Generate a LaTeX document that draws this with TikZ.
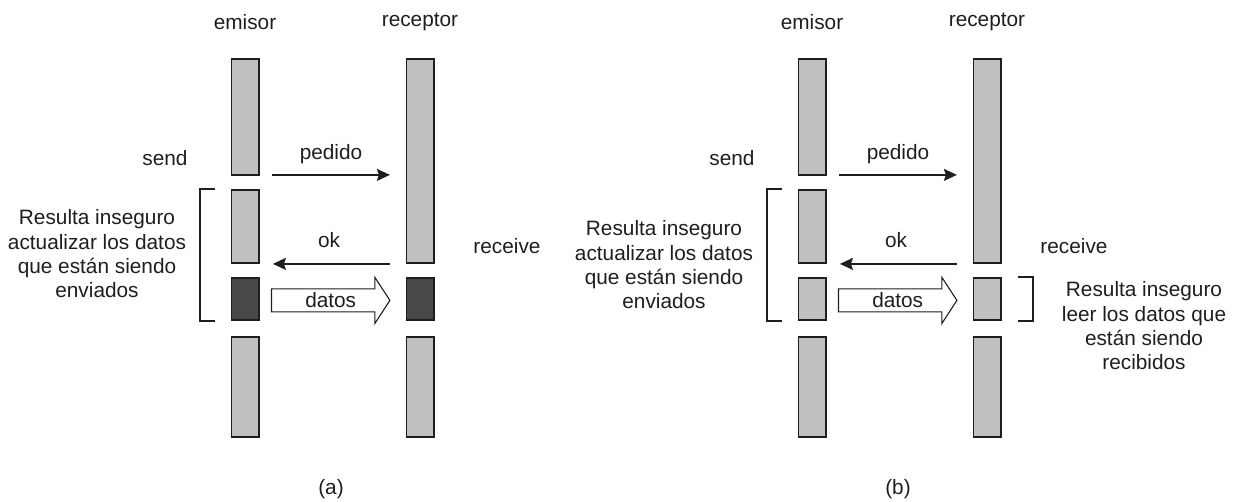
\documentclass[tikz,border=0pt]{standalone}
\usepackage{fontspec}
\setmainfont{Liberation Sans}
\usetikzlibrary{arrows.meta,calc}
\definecolor{barlight}{HTML}{C0C0C0}
\definecolor{bardark}{HTML}{484848}
\definecolor{ink}{HTML}{1E1E1E}
\begin{document}
\begin{tikzpicture}[x=1pt,y=-1pt,
  bar/.style={draw=ink, line width=1.8pt, inner sep=0pt, minimum width=27.2pt, anchor=north},
  lbl/.style={inner sep=0pt, text=ink, font=\fontsize{20.8}{24.3}\selectfont},
  note/.style={lbl, align=center},
  msg/.style={draw=ink, line width=1.5pt, -{Stealth[length=13pt,width=12pt,inset=2pt]}},
  brace/.style={draw=ink, line width=1.4pt},
  bulk/.style={draw=ink, line width=1.1pt, fill=white, line join=miter}]
\useasboundingbox (0,0) rectangle (1243,502);

% the two scenarios: (a) with dark busy segments, (b) with light ones
\foreach \p/\dx/\mf/\ty/\cap in {a/0/bardark/254/(a), b/567/barlight/265/(b)} {
\begin{scope}[xshift=\dx pt]
  % process headers
  \node[lbl] (\p-hem) at (245,22) {emisor};
  \node[lbl] (\p-hre) at (420,22) {receptor};
  % sender time line
  \node[bar, fill=barlight, minimum height=116.2pt] (\p-e1) at (245,57.9) {};
  \node[bar, fill=barlight, minimum height=73.2pt]  (\p-e2) at (245,188.9) {};
  \node[bar, fill=\mf,      minimum height=42.2pt]  (\p-e3) at (245,276.9) {};
  \node[bar, fill=barlight, minimum height=100.2pt] (\p-e4) at (245,335.9) {};
  % receiver time line
  \node[bar, fill=barlight, minimum height=204.2pt] (\p-r1) at (420,57.9) {};
  \node[bar, fill=\mf,      minimum height=42.2pt]  (\p-r3) at (420,276.9) {};
  \node[bar, fill=barlight, minimum height=100.2pt] (\p-r4) at (420,335.9) {};
  % request and acknowledgement
  \coordinate (\p-ps) at ([xshift=12.4pt,yshift=1pt]\p-e1.south east);
  \draw[msg, shorten >=15.6pt] (\p-ps) -- (\p-ps -| \p-r1.west);
  \draw[msg] ([xshift=-15.4pt]\p-r1.south west) -- ([xshift=13.4pt]\p-e2.south east);
  % bulk data transfer
  \coordinate (\p-t) at ([xshift=12pt,yshift=-1.5pt]\p-e3.east);
  \coordinate (\p-h) at ([xshift=-15.6pt,yshift=-1.5pt]\p-r3.west);
  \draw[bulk] ($(\p-t)+(0,-11.5)$) -- ($(\p-h)+(-15,-11.5)$) -- ($(\p-h)+(-15,-23)$)
     -- (\p-h) -- ($(\p-h)+(-15,23)$) -- ($(\p-h)+(-15,11.5)$) -- ($(\p-t)+(0,11.5)$) -- cycle;
  \node[lbl] (\p-dat) at ($(\p-t)!0.5!(\p-h)$) {datos};
  % message labels
  \node[lbl] (\p-ped) at (331,154) {pedido};
  \node[lbl] (\p-ok)  at (329,240) {ok};
  \node[lbl] (\p-snd) at (165,158) {send};
  \node[lbl] (\p-rcv) at (507,246) {receive};
  % unsafe interval on the sender side
  \draw[brace] ([xshift=-15.6pt]\p-e2.north west) -| ([xshift=-30.6pt]\p-e3.south west)
     -- ([xshift=-15.6pt]\p-e3.south west);
  \node[note] (\p-txt) at (97,\ty) {Resulta inseguro\\actualizar los datos\\que están siendo\\enviados};
  \node[lbl] (\p-cap) at (331,489) {\cap};
\end{scope}
}

% unsafe interval on the receiver side (b)
\draw[brace] ([xshift=16.4pt]b-r3.north east) -| ([xshift=31.4pt]b-r3.south east)
   -- ([xshift=16.4pt]b-r3.south east);
\node[note] (b-rtxt) at (1144,326) {Resulta inseguro\\leer los datos que\\están siendo\\recibidos};
\end{tikzpicture}
\end{document}
